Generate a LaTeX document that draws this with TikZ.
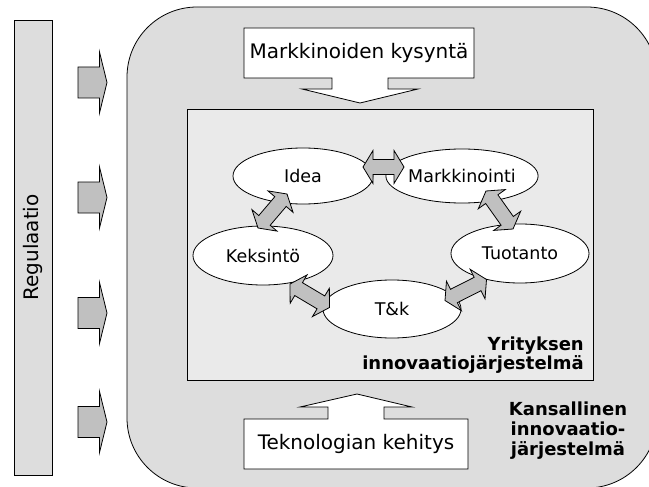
\documentclass[tikz,border=0pt]{standalone}
\usepackage{fontspec}
\setmainfont{DejaVu Sans}
\usetikzlibrary{shapes.geometric,calc}
\definecolor{outerg}{HTML}{DDDDDD}
\definecolor{innerg}{HTML}{EAEAEA}
\definecolor{arrg}{HTML}{C0C0C0}
\newcommand\fatarrow[2]{%
 \draw[fat] (#1)
  -- ($(#1)!10pt!(#2)!16.5pt!90:(#2)$)
  -- ($(#1)!10pt!(#2)!7.5pt!90:(#2)$)
  -- ($(#2)!10pt!(#1)!7.5pt!-90:(#1)$)
  -- ($(#2)!10pt!(#1)!16.5pt!-90:(#1)$)
  -- (#2)
  -- ($(#2)!10pt!(#1)!16.5pt!90:(#1)$)
  -- ($(#2)!10pt!(#1)!7.5pt!90:(#1)$)
  -- ($(#1)!10pt!(#2)!7.5pt!-90:(#2)$)
  -- ($(#1)!10pt!(#2)!16.5pt!-90:(#2)$)
  -- cycle;}
\begin{document}
\begin{tikzpicture}[x=1pt,y=-1pt,line join=miter,
  every node/.style={inner sep=0pt},
  ell/.style={ellipse,draw,fill=white,line width=0.8pt,font=\fontsize{17.5}{20}\selectfont},
  fat/.style={draw,fill=arrg,line width=0.8pt},
  sidearrow/.style={draw,fill=arrg,line width=0.8pt},
  callout/.style={draw,fill=white,line width=0.8pt},
  boxtext/.style={font=\fontsize{20}{24}\selectfont},
  boldlbl/.style={font=\fontsize{18}{17.5}\bfseries\selectfont},
  natlbl/.style={font=\fontsize{18}{20}\bfseries\selectfont}]
\useasboundingbox (0,0) rectangle (649,487);
% outer national system
\draw[fill=outerg,line width=0.8pt,rounded corners=70pt] (127,7) rectangle (657,488);
% regulation bar
\node[draw,fill=outerg,line width=0.8pt,rotate=90,minimum width=455pt,minimum height=38pt,font=\fontsize{20}{24}\selectfont] (reg) at (33,247.5) {Regulaatio};
% side arrows
\foreach \yy in {82.5,197.5,313,422}{
  \draw[sidearrow] (78,\yy-15.5) -- (99.5,\yy-15.5) -- (99.5,\yy-30.5) -- (107,\yy)
     -- (99.5,\yy+30.5) -- (99.5,\yy+15.5) -- (78,\yy+15.5) -- cycle;
}
% inner firm system
\draw[fill=innerg,line width=0.8pt] (187,109) rectangle (593,380);
% top callout
\draw[callout] (244,28) -- (474,28) -- (474,78) -- (388,78) -- (388,89) -- (418,89)
   -- (360,103) -- (302,89) -- (332,89) -- (332,78) -- (244,78) -- cycle;
\node[boxtext] (demand) at (359,53) {Markkinoiden kysyntä};
% bottom callout
\draw[callout] (244,469) -- (468,469) -- (468,419) -- (384,419) -- (384,407) -- (412,407)
   -- (357,394) -- (300,407) -- (328,407) -- (328,419) -- (244,419) -- cycle;
\node[boxtext] (tech) at (356,444) {Teknologian kehitys};
% ellipses
\node[ell,minimum width=140pt,minimum height=56pt] (idea) at (303,176) {Idea};
\node[ell,minimum width=130pt,minimum height=54pt] (mark) at (462,176) {Markkinointi};
\node[ell,minimum width=140pt,minimum height=59pt] (keks) at (263,255.5) {Keksintö};
\node[ell,minimum width=138pt,minimum height=59pt] (tuot) at (520,253.5) {Tuotanto};
\node[ell,minimum width=138pt,minimum height=58pt] (tk) at (392,309) {T\&k};
% double arrow end points
\coordinate (im1) at (363,167);  \coordinate (im2) at (404,167);
\coordinate (ik1) at (287,194);  \coordinate (ik2) at (258,228);
\coordinate (mt1) at (486,191);  \coordinate (mt2) at (513,229);
\coordinate (kt1) at (290,284);  \coordinate (kt2) at (329.5,307.5);
\coordinate (tt1) at (445,300.5); \coordinate (tt2) at (486.5,279.5);
\fatarrow{im1}{im2}
\fatarrow{ik1}{ik2}
\fatarrow{mt1}{mt2}
\fatarrow{kt1}{kt2}
\fatarrow{tt1}{tt2}
% labels
\node[boldlbl,align=right,anchor=east] (firm) at (584,355) {Yrityksen\\innovaatiojärjestelmä};
\node[natlbl,align=center] (nat) at (568,430.5) {Kansallinen\\innovaatio-\\järjestelmä};
\end{tikzpicture}
\end{document}
